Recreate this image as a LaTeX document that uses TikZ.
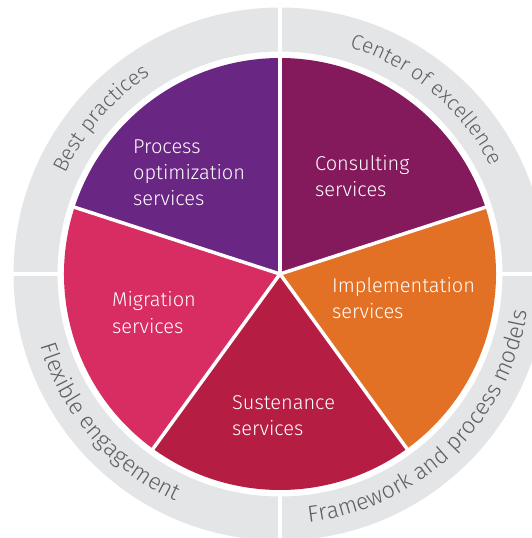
\documentclass[tikz,border=0pt]{standalone}
\usepackage{fontspec}
\setmainfont{Fira Sans}[UprightFont={* Light}]
\usetikzlibrary{decorations.text}
\definecolor{consult}{HTML}{841A5C}
\definecolor{procpurple}{HTML}{6A2683}
\definecolor{implorange}{HTML}{E37125}
\definecolor{sustred}{HTML}{B51D43}
\definecolor{migpink}{HTML}{D82D63}
\definecolor{ringgray}{HTML}{E4E5E7}
\definecolor{ringtext}{HTML}{5F5F61}
\begin{document}
\begin{tikzpicture}[x=1pt,y=1pt,
  lbl/.style={text=white, font=\fontsize{20}{24}\selectfont, inner sep=0pt, anchor=base west},
  gapline/.style={white, line width=4pt},
  ringlbl/.style={decorate, decoration={text along path, text align=center, text color=ringtext}}]
\useasboundingbox (-280,-264) rectangle (252,274);
\coordinate (c) at (0,0);
% outer ring
\fill[ringgray, even odd rule] (c) circle[radius=266.5] (c) circle[radius=222.5];
\foreach \a in {0,90,180,270} \draw[gapline] (\a:218) -- (\a:272);
% pie slices
\fill[consult] (c) -- (90:216) arc[start angle=90, end angle=18, radius=216] -- cycle;
\fill[implorange] (c) -- (18:216) arc[start angle=18, end angle=-54, radius=216] -- cycle;
\fill[sustred] (c) -- (-54:216) arc[start angle=-54, end angle=-126, radius=216] -- cycle;
\fill[migpink] (c) -- (-126:216) arc[start angle=-126, end angle=-198, radius=216] -- cycle;
\fill[procpurple] (c) -- (162:216) arc[start angle=162, end angle=90, radius=216] -- cycle;
\foreach \a in {90,18,-54,-126,162} \draw[white, line width=3.5pt] (c) -- (\a:220);
% slice labels
\node[lbl] (cons1) at (35,103) {Consulting};
\node[lbl] (cons2) at (35,77) {services};
\node[lbl] (proc1) at (-147,120) {Process};
\node[lbl] (proc2) at (-147,94) {optimization};
\node[lbl] (proc3) at (-147,68) {services};
\node[lbl] (impl1) at (52,-19) {Implementation};
\node[lbl] (impl2) at (52,-45) {services};
\node[lbl] (sust1) at (-48,-135) {Sustenance};
\node[lbl] (sust2) at (-48,-161) {services};
\node[lbl] (migr1) at (-168,-33) {Migration};
\node[lbl] (migr2) at (-168,-59) {services};
% ring labels
\path[ringlbl, decoration={text={|\fontsize{21}{24}\selectfont|Best practices}}]
  (179:237) arc[start angle=179, end angle=99, radius=237];
\path[ringlbl, decoration={text={|\fontsize{21}{24}\selectfont|Center of excellence}}]
  (90:237) arc[start angle=90, end angle=10, radius=237];
\path[ringlbl, decoration={text={|\fontsize{23}{26}\selectfont|Framework and process models}}]
  (-91:250) arc[start angle=-91, end angle=-1, radius=250];
\path[ringlbl, decoration={text={|\fontsize{23}{26}\selectfont|Flexible engagement}}]
  (176:250) arc[start angle=176, end angle=266, radius=250];
\end{tikzpicture}
\end{document}
